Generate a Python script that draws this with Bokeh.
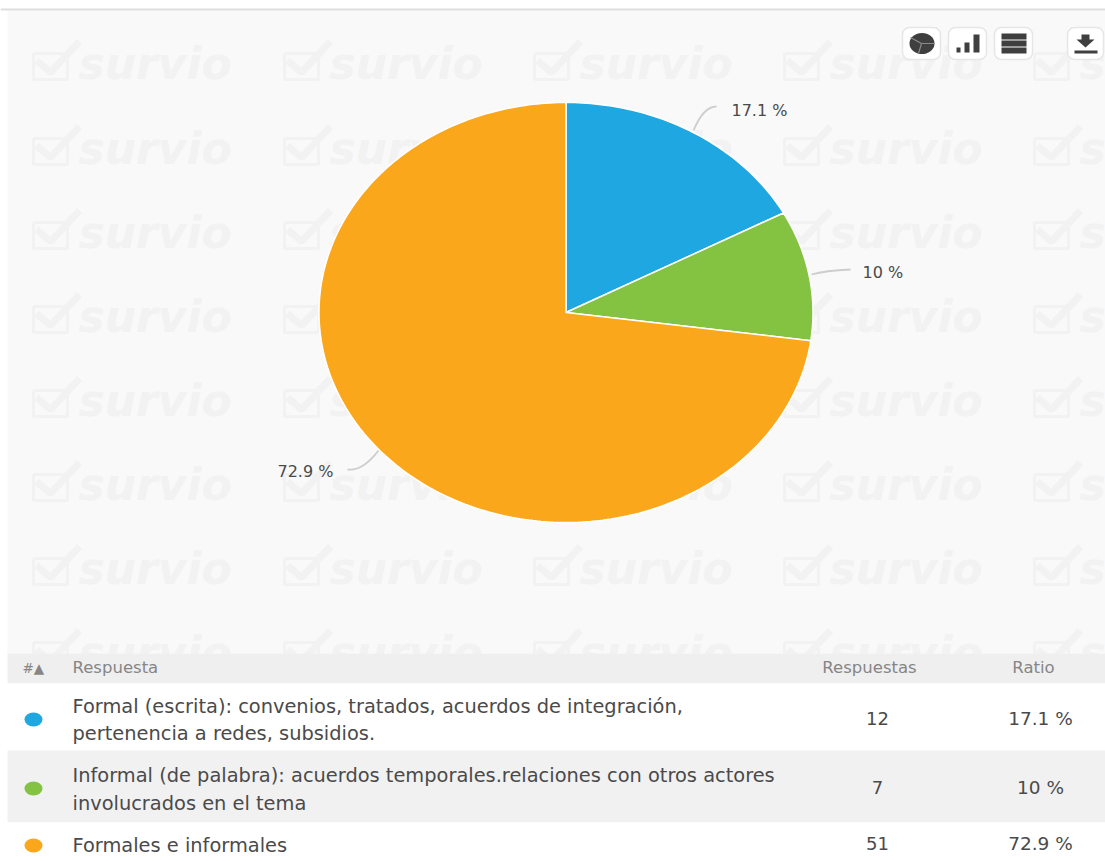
import math
from bokeh.plotting import figure
from bokeh.models import Range1d
from bokeh.core.properties import value
from bokeh.embed import file_html
from bokeh.resources import INLINE

# Data
answers = [
    ["Formal (escrita): convenios, tratados, acuerdos de integración,", "pertenencia a redes, subsidios."],
    ["Informal (de palabra): acuerdos temporales.relaciones con otros actores", "involucrados en el tema"],
    ["Formales e informales"],
]
counts = [12, 7, 51]
ratios = ["17.1 %", "10 %", "72.9 %"]
colors = ["#1ea7e1", "#84c341", "#fba71c"]
headers = ["Respuesta", "Respuestas", "Ratio"]

# Layout: the range is expressed in the reference picture's pixels
W, H = 1105, 861
p = figure(width=W, height=H, x_range=Range1d(0, W), y_range=Range1d(H, 0),
           output_backend="svg", toolbar_location=None, min_border=0)
p.axis.visible = False
p.grid.visible = False
p.outline_line_color = None
p.background_fill_color = "white"
p.border_fill_color = "white"
FONT = value("DejaVu Sans")

# Panel
p.quad(left=[7], right=[1110], top=[10], bottom=[653], fill_color="#f9f9f9", line_color=None)
p.quad(left=[0], right=[1110], top=[8], bottom=[10], fill_color="#dedede", line_color=None)

# Watermarks
WM = "#f2f2f2"
cols = [30, 281, 531, 781, 1031]
rows = [80, 165, 249, 333, 417, 501, 585, 669]
wx, wy, wt, bx, by, cx_, cy_ = [], [], [], [], [], [], []
for c in cols:
    for r in rows:
        wx.append(c + 48)
        wy.append(r - 17)
        wt.append("survio" if c < 1000 else "s")
        bx.append([c + 3, c + 37, c + 37, c + 3, c + 3])
        by.append([r - 27, r - 27, r - 1, r - 1, r - 27])
        cx_.append([c + 6, c + 20, c + 49])
        cy_.append([r - 20, r - 8, r - 39])
p.text(x=wx, y=wy, text=wt, text_font=value("DejaVu Sans"), text_font_style="bold italic",
       text_font_size="44px", text_color=WM, text_baseline="middle")
p.multi_line(bx, by, line_color=WM, line_width=3)
p.multi_line(cx_, cy_, line_color=WM, line_width=7)

# Pie (drawn as an ellipse, the reference is stretched)
CX, CY, RX, RY = 565.5, 312, 247, 210
total = sum(counts)
acc = 0
xs, ys = [], []
for n in counts:
    a0 = acc / total * 2 * math.pi
    acc += n
    a1 = acc / total * 2 * math.pi
    steps = max(4, int((a1 - a0) * 60))
    xx, yy = [CX], [CY]
    for i in range(steps + 1):
        a = a0 + (a1 - a0) * i / steps
        xx.append(CX + RX * math.sin(a))
        yy.append(CY - RY * math.cos(a))
    xs.append(xx)
    ys.append(yy)
p.patches(xs, ys, fill_color=colors, line_color="white", line_width=1.5)

# Leader lines and pie labels
LEAD = "#cdcdcd"
p.quadratic(x0=[693, 811, 347], y0=[130, 274, 469], x1=[716, 850, 378], y1=[106, 269, 450],
            cx=[703, 825, 362], cy=[106, 270, 471], line_color=LEAD, line_width=1.8)
p.text(x=[731, 862, 277], y=[110, 272, 471], text=ratios, text_font=FONT, text_font_size="16px",
       text_color="#4a4a4a", text_baseline="middle")

# Buttons
p.quad(left=[902, 948, 994, 1067], right=[940, 986, 1032, 1103], top=[27] * 4, bottom=[59] * 4,
       fill_color="white", line_color="#e6e6e6", line_width=1.5, border_radius=7)
DK = "#3f3f3f"
p.ellipse(x=[921.5], y=[43], width=[25], height=[21], fill_color=DK, line_color=None)
p.multi_line([[921, 910], [921, 934], [921, 918]], [[43, 37], [43, 43], [43, 53]], line_color="#8a8a8a", line_width=1.2)
p.quad(left=[956, 964, 973], right=[960, 969, 979], top=[47, 42, 34], bottom=[52] * 3, fill_color=DK, line_color=None)
p.quad(left=[1001] * 3, right=[1026] * 3, top=[33, 40, 47], bottom=[39, 46, 53], fill_color=DK, line_color=None)
p.patches([[1081, 1089, 1089, 1094, 1085, 1076, 1081]], [[34, 34, 39, 39, 47, 39, 39]], fill_color=DK, line_color=None)
p.quad(left=[1074], right=[1097], top=[50], bottom=[53], fill_color=DK, line_color=None)

# Table
p.quad(left=[7], right=[1110], top=[653], bottom=[683], fill_color="#efefef", line_color=None)
p.quad(left=[7], right=[1110], top=[683], bottom=[750], fill_color="white", line_color=None)
p.quad(left=[7], right=[1110], top=[750], bottom=[822], fill_color="#f1f1f1", line_color=None)
p.quad(left=[7], right=[1110], top=[822], bottom=[870], fill_color="white", line_color=None)

HC = "#868686"
p.text(x=[22], y=[667], text=["#▲"], text_font=FONT, text_font_size="13.5px", text_color=HC, text_baseline="middle")
p.text(x=[72], y=[667], text=[headers[0]], text_font=FONT, text_font_size="16.5px", text_color=HC, text_baseline="middle")
p.text(x=[869, 1033], y=[667, 667], text=headers[1:], text_font=FONT, text_font_size="16.5px", text_color=HC,
       text_align="center", text_baseline="middle")

row_lines = [[706, 733], [775, 803], [845]]
row_mid = [718, 787, 843]
TC = "#4a4a4a"
p.ellipse(x=[33] * 3, y=[719, 788, 845], width=[18] * 3, height=[14] * 3, fill_color=colors, line_color=None)
for lines, ys_ in zip(answers, row_lines):
    p.text(x=[72] * len(lines), y=ys_, text=lines, text_font=FONT, text_font_size="19.4px", text_color=TC,
           text_baseline="middle")
p.text(x=[877] * 3, y=row_mid, text=[str(c) for c in counts], text_font=FONT, text_font_size="18px", text_color=TC,
       text_align="center", text_baseline="middle")
p.text(x=[1040] * 3, y=row_mid, text=ratios, text_font=FONT, text_font_size="18.5px", text_color=TC,
       text_align="center", text_baseline="middle")

open("out.html", "w").write(file_html(p, INLINE))
